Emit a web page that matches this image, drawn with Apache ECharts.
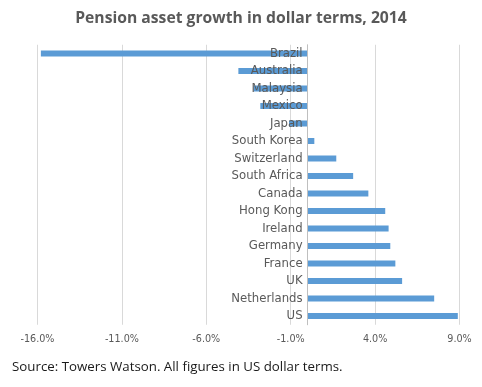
<!DOCTYPE html>
<html><head><meta charset="utf-8">
<script src="https://cdn.jsdelivr.net/npm/echarts@6/dist/echarts.min.js"></script>
<style>html,body{margin:0;padding:0;background:#fff}#c{width:482px;height:387px}</style>
</head><body><div id="c"></div>
<script>
const categories = ["Brazil","Australia","Malaysia","Mexico","Japan","South Korea","Switzerland","South Africa","Canada","Hong Kong","Ireland","Germany","France","UK","Netherlands","US"];
const growth = [-15.8,-4.1,-3.2,-2.8,-1.1,0.4,1.7,2.7,3.6,4.6,4.8,4.9,5.2,5.6,7.5,8.9];
const tickValues = [-16,-11,-6,-1,4,9];
const titleText = "Pension asset growth in dollar terms, 2014";
const sourceText = "Source: Towers Watson. All figures in US dollar terms.";

const labelFont = '"Liberation Sans Narrow","DejaVu Sans Condensed",sans-serif';
const gridLeft = 37.5, gridWidth = 422, xMin = -16, xMax = 9;
const chart = echarts.init(document.getElementById('c'), null, {renderer:'canvas'});
chart.setOption({
  animation:false,
  title:{text:titleText,left:'center',top:6,textStyle:{fontFamily:'Open Sans',fontWeight:'bold',fontSize:15.7,color:'#595959'}},
  graphic:[{type:'text',left:12,top:361,style:{text:sourceText,fontFamily:'Open Sans',fontSize:13.3,fill:'#1a1a1a'}}],
  grid:{left:gridLeft,width:gridWidth,top:44.75,bottom:62.25,containLabel:false,outerBoundsMode:'none'},
  xAxis:{type:'value',min:xMin,max:xMax,
    axisLine:{show:false},
    axisTick:{show:false,customValues:tickValues},
    splitLine:{show:true,lineStyle:{color:'#d9d9d9',width:1}},
    axisLabel:{customValues:tickValues,formatter:v=>v.toFixed(1)+'%',color:'#595959',fontFamily:labelFont,fontSize:10.7,margin:9}},
  yAxis:{type:'category',data:categories,inverse:true,z:10,
    offset:-(0-xMin)/(xMax-xMin)*gridWidth,
    axisLine:{show:true,onZero:false,lineStyle:{color:'#bfbfbf'}},
    axisTick:{show:false},
    axisLabel:{color:'#595959',fontFamily:labelFont,fontSize:13,margin:5}},
  series:[{type:'bar',data:growth,barWidth:6,itemStyle:{color:'#5b9bd5'},z:1}]
});
</script></body></html>
